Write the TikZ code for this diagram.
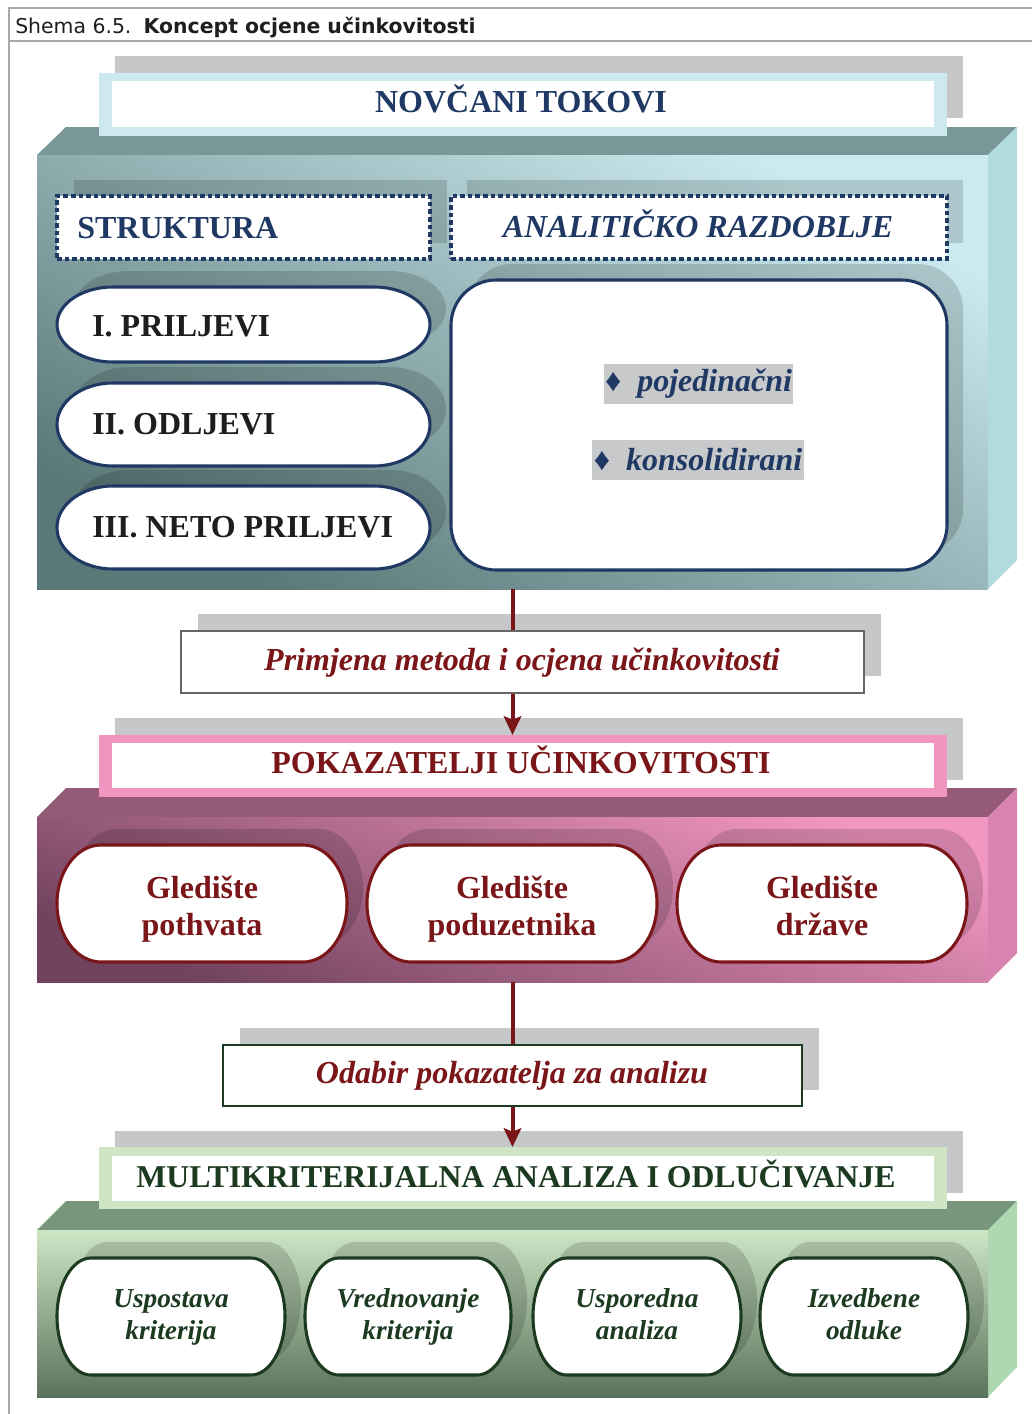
\documentclass[tikz,border=0pt]{standalone}
\usepackage{fontspec}
\setmainfont{Liberation Serif}
\newfontfamily\hdrfont{DejaVu Sans}
\usetikzlibrary{arrows.meta,fit}
\pgfdeclarelayer{back}
\pgfdeclarelayer{mid}
\pgfsetlayers{back,mid,main}
\definecolor{navy}{HTML}{1F3864}
\definecolor{dred}{HTML}{7A1518}
\definecolor{dgreen}{HTML}{1B3A20}
\definecolor{gshadow}{HTML}{C6C7C9}
\definecolor{framegray}{HTML}{A9A9AB}
\definecolor{lblue}{HTML}{CDE9EF}
\definecolor{btop}{HTML}{7A9797}
\definecolor{bside}{HTML}{B0DCDE}
\definecolor{blight}{HTML}{CBEAEF}
\definecolor{bdark}{HTML}{5B7878}
\definecolor{ptitle}{HTML}{F095BF}
\definecolor{ptop}{HTML}{955A78}
\definecolor{pside}{HTML}{D984B0}
\definecolor{plight}{HTML}{F296C2}
\definecolor{pdark}{HTML}{70425C}
\definecolor{gtitle}{HTML}{CFE5C6}
\definecolor{gtop}{HTML}{77967B}
\definecolor{gside}{HTML}{ACD8B2}
\definecolor{glight}{HTML}{CDE6C6}
\definecolor{gmid}{HTML}{A6D2A6}
\definecolor{gdark}{HTML}{5A735A}
\definecolor{hl}{HTML}{C8C9CB}
\definecolor{txtblack}{HTML}{1E1E1E}
\newcommand{\pillp}[6]{\path[#1] ({#2+#6},#3) -- ({#4-#6},#3) arc[start angle=-90,end angle=90,x radius=#6,y radius={(#5-#3)/2}] -- ({#2+#6},#5) arc[start angle=90,end angle=270,x radius=#6,y radius={(#5-#3)/2}] -- cycle;}
\newcommand{\bigtxt}{\fontsize{24}{27.75}\selectfont}
\newcommand{\smtxt}{\fontsize{20.5}{24}\selectfont}
\begin{document}
\begin{tikzpicture}[x=0.75pt,y=-0.75pt,
  fitbox/.style={inner sep=0pt,outer sep=0pt},
  shd/.style={fill=black,fill opacity=0.15},
  dashbox/.style={fitbox,fill=white,draw=navy,line width=2.3pt,dash pattern=on 3.4pt off 2.3pt},
  ttl/.style={inner sep=0pt,font=\bfseries\bigtxt},
  conn/.style={draw=dred,line width=3pt,-{Stealth[length=14pt,width=13pt,inset=2.5pt]}},
  pillB/.style={fill=white,draw=navy,line width=2.3pt},
  pillP/.style={fill=white,draw=dred,line width=2.3pt},
  pillG/.style={fill=white,draw=dgreen,line width=2.3pt},
  btxt/.style={inner sep=0pt,text=txtblack,font=\bfseries\bigtxt,anchor=base west},
  ptxt/.style={inner sep=0pt,text=dred,font=\bfseries\bigtxt,align=center},
  gtxt/.style={inner sep=0pt,text=dgreen,font=\bfseries\itshape\smtxt,align=center},
  midbox/.style={fitbox,fill=white,line width=0.9pt}]
\useasboundingbox (0,0) rectangle (1032,1414);
% frame
\draw[framegray,line width=2pt] (8,8) -- (1032,8);
\draw[framegray,line width=2pt] (8,41) -- (1032,41);
\draw[framegray,line width=2pt] (9,7) -- (9,1414);
\node[anchor=base west,inner sep=0pt,text=txtblack,font=\hdrfont\fontsize{15.3}{18}\selectfont] (cap) at (15,33) {Shema 6.5.\hspace{0.6em}\textbf{Koncept ocjene učinkovitosti}};

% ================= BLUE BLOCK =================
\begin{pgfonlayer}{back}
\fill[btop] (37,155) -- (66,127) -- (1017,127) -- (988,155) -- cycle;
\fill[bside] (988,155) -- (1017,127) -- (1017,560) -- (988,589) -- cycle;
\shade[top color=blight,bottom color=bdark,shading angle=-28] (37,155) rectangle (988,589);
\fill[gshadow] (115,56) rectangle (963,118);
\fill[gshadow] (198,614) rectangle (881,676);
\end{pgfonlayer}
\node[fitbox,fit={(37,155)(988,589)}] (bface) {};
\node[fitbox,fill=lblue,fit={(99,73)(947,136)}] (bttl) {};
\node[fitbox,fill=white,fit={(112,81)(934,127)}] (bttlin) {};
\node[ttl,text=navy,anchor=base] (bttltx) at (521,112) {NOVČANI TOKOVI};

\fill[shd] (74,180) rectangle (447,243);
\fill[shd] (467,180) rectangle (963,243);
\node[dashbox,fit={(57,196)(430,259)}] (strbox) {};
\node[ttl,text=navy,anchor=base west] (strtx) at (77,238) {STRUKTURA};
\node[dashbox,fit={(451,196)(947,259)}] (anbox) {};
\node[ttl,text=navy,anchor=base,font=\bfseries\itshape\bigtxt] (antx) at (698,237) {ANALITIČKO RAZDOBLJE};

\pillp{shd}{73}{271}{446}{346}{56}
\pillp{shd}{73}{367}{446}{450}{56}
\pillp{shd}{73}{470}{446}{553}{56}
\fill[shd,rounded corners=34pt] (467,264) rectangle (963,554);
\pillp{pillB}{57}{287}{430}{362}{56}
\pillp{pillB}{57}{383}{430}{466}{56}
\pillp{pillB}{57}{486}{430}{569}{56}
\node[btxt] (pr1) at (92,336) {I. PRILJEVI};
\node[btxt] (pr2) at (92,434) {II. ODLJEVI};
\node[btxt] (pr3) at (92,537) {III. NETO PRILJEVI};
\node[fitbox,fill=white,draw=navy,line width=2.3pt,rounded corners=34pt,fit={(451,280)(947,570)}] (rbox) {};
\node[fill=hl,inner xsep=1pt,inner ysep=0pt,minimum height=30pt,text=navy,font=\bfseries\itshape\bigtxt] (bul1) at (698.5,384) {{\upshape ♦}\hspace{0.5em}pojedinačni};
\node[fill=hl,inner xsep=1pt,inner ysep=0pt,minimum height=30pt,text=navy,font=\bfseries\itshape\bigtxt] (bul2) at (698,460) {{\upshape ♦}\hspace{0.5em}konsolidirani};

% ================= PINK BLOCK =================
\begin{pgfonlayer}{back}
\fill[ptop] (37,817) -- (66,788) -- (1017,788) -- (988,817) -- cycle;
\fill[pside] (988,817) -- (1017,788) -- (1017,953) -- (988,982) -- cycle;
\shade[top color=plight,bottom color=pdark,shading angle=-22] (37,817) rectangle (988,982);
\fill[gshadow] (115,718) rectangle (963,780);
\fill[gshadow] (240,1028) rectangle (819,1090);
\end{pgfonlayer}
\node[fitbox,fit={(37,817)(988,982)}] (pface) {};
\node[fitbox,fill=ptitle,fit={(99,735)(947,797)}] (pttl) {};
\node[fitbox,fill=white,fit={(112,743)(934,788)}] (pttlin) {};
\node[ttl,text=dred,anchor=base] (pttltx) at (521,773) {POKAZATELJI UČINKOVITOSTI};

\node[midbox,draw=black!60,fit={(181,631)(864,693)}] (prim) {};
\node[ttl,text=dred,anchor=base,font=\bfseries\itshape\bigtxt] (primtx) at (522,670) {Primjena metoda i ocjena učinkovitosti};

\pillp{shd}{73}{829}{363}{946}{44}
\pillp{shd}{383}{829}{673}{946}{44}
\pillp{shd}{693}{829}{983}{946}{44}
\pillp{pillP}{57}{845}{347}{962}{44}
\pillp{pillP}{367}{845}{657}{962}{44}
\pillp{pillP}{677}{845}{967}{962}{44}
\node[ptxt] (gl1) at (202,910) {\strut Gledište\\\strut pothvata};
\node[ptxt] (gl2) at (512,910) {\strut Gledište\\\strut poduzetnika};
\node[ptxt] (gl3) at (822,910) {\strut Gledište\\\strut države};

% ================= GREEN BLOCK =================
\begin{pgfonlayer}{back}
\fill[gtop] (37,1230) -- (66,1201) -- (1017,1201) -- (988,1230) -- cycle;
\fill[gside] (988,1230) -- (1017,1201) -- (1017,1367) -- (988,1397) -- cycle;
\shade[top color=glight,middle color=gmid,bottom color=gdark] (37,1230) rectangle (988,1397);
\fill[gshadow] (115,1131) rectangle (963,1193);
\end{pgfonlayer}
\node[fitbox,fit={(37,1230)(988,1397)}] (gface) {};
\node[fitbox,fill=gtitle,fit={(99,1147)(947,1209)}] (gttl) {};
\node[fitbox,fill=white,fit={(112,1156)(934,1201)}] (gttlin) {};
\node[ttl,text=dgreen,anchor=base,font=\bfseries\fontsize{23.8}{27}\selectfont] (gttltx) at (516,1187) {MULTIKRITERIJALNA ANALIZA I ODLUČIVANJE};

\node[midbox,draw=dgreen,fit={(223,1045)(802,1106)}] (odab) {};
\node[ttl,text=dred,anchor=base,font=\bfseries\itshape\bigtxt] (odabtx) at (512,1083) {Odabir pokazatelja za analizu};

\pillp{shd}{73}{1242}{301}{1359}{34}
\pillp{shd}{321}{1242}{527}{1359}{34}
\pillp{shd}{549}{1242}{757}{1359}{34}
\pillp{shd}{776}{1242}{984}{1359}{34}
\pillp{pillG}{57}{1258}{285}{1375}{34}
\pillp{pillG}{305}{1258}{511}{1375}{34}
\pillp{pillG}{533}{1258}{741}{1375}{34}
\pillp{pillG}{760}{1258}{968}{1375}{34}
\node[gtxt] (k1) at (171,1317) {\strut Uspostava\\\strut kriterija};
\node[gtxt] (k2) at (408,1317) {\strut Vrednovanje\\\strut kriterija};
\node[gtxt] (k3) at (637,1317) {\strut Usporedna\\\strut analiza};
\node[gtxt] (k4) at (864,1317) {\strut Izvedbene\\\strut odluke};

% ================= CONNECTORS =================
\begin{pgfonlayer}{mid}
\draw[conn] (bface.south) -- (bface.south |- pttl.north);
\draw[conn] (pface.south) -- (pface.south |- gttl.north);
\end{pgfonlayer}
\end{tikzpicture}
\end{document}
